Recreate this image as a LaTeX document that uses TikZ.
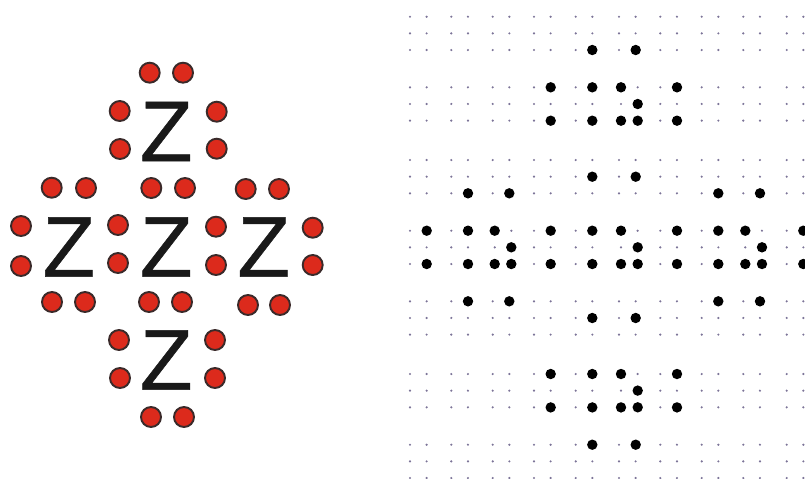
\documentclass[tikz,border=0pt]{standalone}
\usepackage{fontspec}
\setmainfont{Liberation Sans}
\newfontfamily\atomfont[FakeBold=0.6]{Liberation Sans}
\definecolor{elecred}{HTML}{DC2A1C}
\definecolor{elecrim}{HTML}{3A2A2A}
\definecolor{gridgrey}{HTML}{7C7498}
\begin{document}
\begin{tikzpicture}[x=0.02cm, y=-0.02cm, node distance=1.95cm,
    atom/.style={inner sep=0pt, font=\atomfont\fontsize{49pt}{49pt}\selectfont, text=black!90},
    electron/.style={circle, draw=elecrim, fill=elecred, line width=1.1pt, inner sep=0pt, minimum size=0.4cm},
    griddot/.style={fill=gridgrey},
    inkdot/.style={fill=black}]
  \useasboundingbox (0,0) rectangle (805,478);
  \node (Zc) [atom] at (166.3,247) {Z};
  \node (Zl) [atom, left of=Zc] {Z};
  \node (Zr) [atom, right of=Zc] {Z};
  \node (Zt) [atom, above of=Zc, node distance=2.31cm] {Z};
  \node (Zb) [atom, below of=Zc, node distance=2.26cm] {Z};
  \foreach \ex/\ey [count=\i] in {149.7/72.7, 183/72.7, 119.7/111, 120/149, 216.7/111.7, 216.7/148.7,
      51.7/187.7, 86/188, 151.3/188, 185/188, 245.7/189, 279/189,
      21/226, 21/266, 118/225, 118/263, 216/226.7, 216/265, 312.7/227.7, 312.7/265,
      52/302, 85/302, 149/302, 182/302, 248/305, 280/305,
      119/340, 120/378, 215/340, 215/378, 151/417, 184/417}
    \node (e\i) [electron] at (\ex,\ey) {};
  \foreach \gy in {16.7,160,301.3,444.7}
    \foreach \gx in {410,451.3,492.7,534,575.7,619,660.3,701.7,743.3,786.7}
      \foreach \dy in {0,16.65,33.3}
        \foreach \dx in {0,16.65}
          \fill[griddot] (\gx+\dx,\gy+\dy) circle (1.2);
  \foreach \gy in {87.3,374}
    \foreach \gx in {410,451.3,492.7,534,575.7,621,660.3,701.7,743.3,786.7}
      \foreach \dy in {0,16.65,33.3}
        \foreach \dx in {0,16.65}
          \fill[griddot] (\gx+\dx,\gy+\dy) circle (1.2);
  \foreach \gy in {230.7}
    \foreach \gx in {410,451.3,494.7,534,575.7,621,660.3,701.7,745.3,786.7}
      \foreach \dy in {0,16.65,33.3}
        \foreach \dx in {0,16.65}
          \fill[griddot] (\gx+\dx,\gy+\dy) circle (1.2);
  \foreach \bx/\by in {592.3/50, 635.7/50, 592.3/176.7, 635.7/176.7,
      468/193.3, 509.3/193.3, 718.3/193.3, 760/193.3,
      468/301.3, 509.3/301.3, 718.3/301.3, 760/301.3,
      592.3/318, 635.7/318, 592.3/444.7, 635.7/444.7}
    \fill[inkdot] (\bx,\by) circle (5.2);
  \foreach \by in {87.3,374}
    \foreach \bx/\bz in {550.7/33.4, 592.3/33.4, 677/33.4, 621/33.4}
      {\fill[inkdot] (\bx,\by) circle (5.2);
       \fill[inkdot] (\bx,\by+\bz) circle (5.2);}
  \foreach \by in {120.7,407.3}
    {\fill[inkdot] (637.7,\by) circle (5.2);
     \fill[inkdot] (637.7,\by-16.7) circle (5.2);}
  \foreach \bx in {426.7,468,494.7,550.7,592.3,621,677,718.3,745.3,803.3}
    {\fill[inkdot] (\bx,230.7) circle (5.2);
     \fill[inkdot] (\bx,264) circle (5.2);}
  \foreach \bx in {511.3,637.7,762}
    {\fill[inkdot] (\bx,247.3) circle (5.2);
     \fill[inkdot] (\bx,264) circle (5.2);}
\end{tikzpicture}
\end{document}
